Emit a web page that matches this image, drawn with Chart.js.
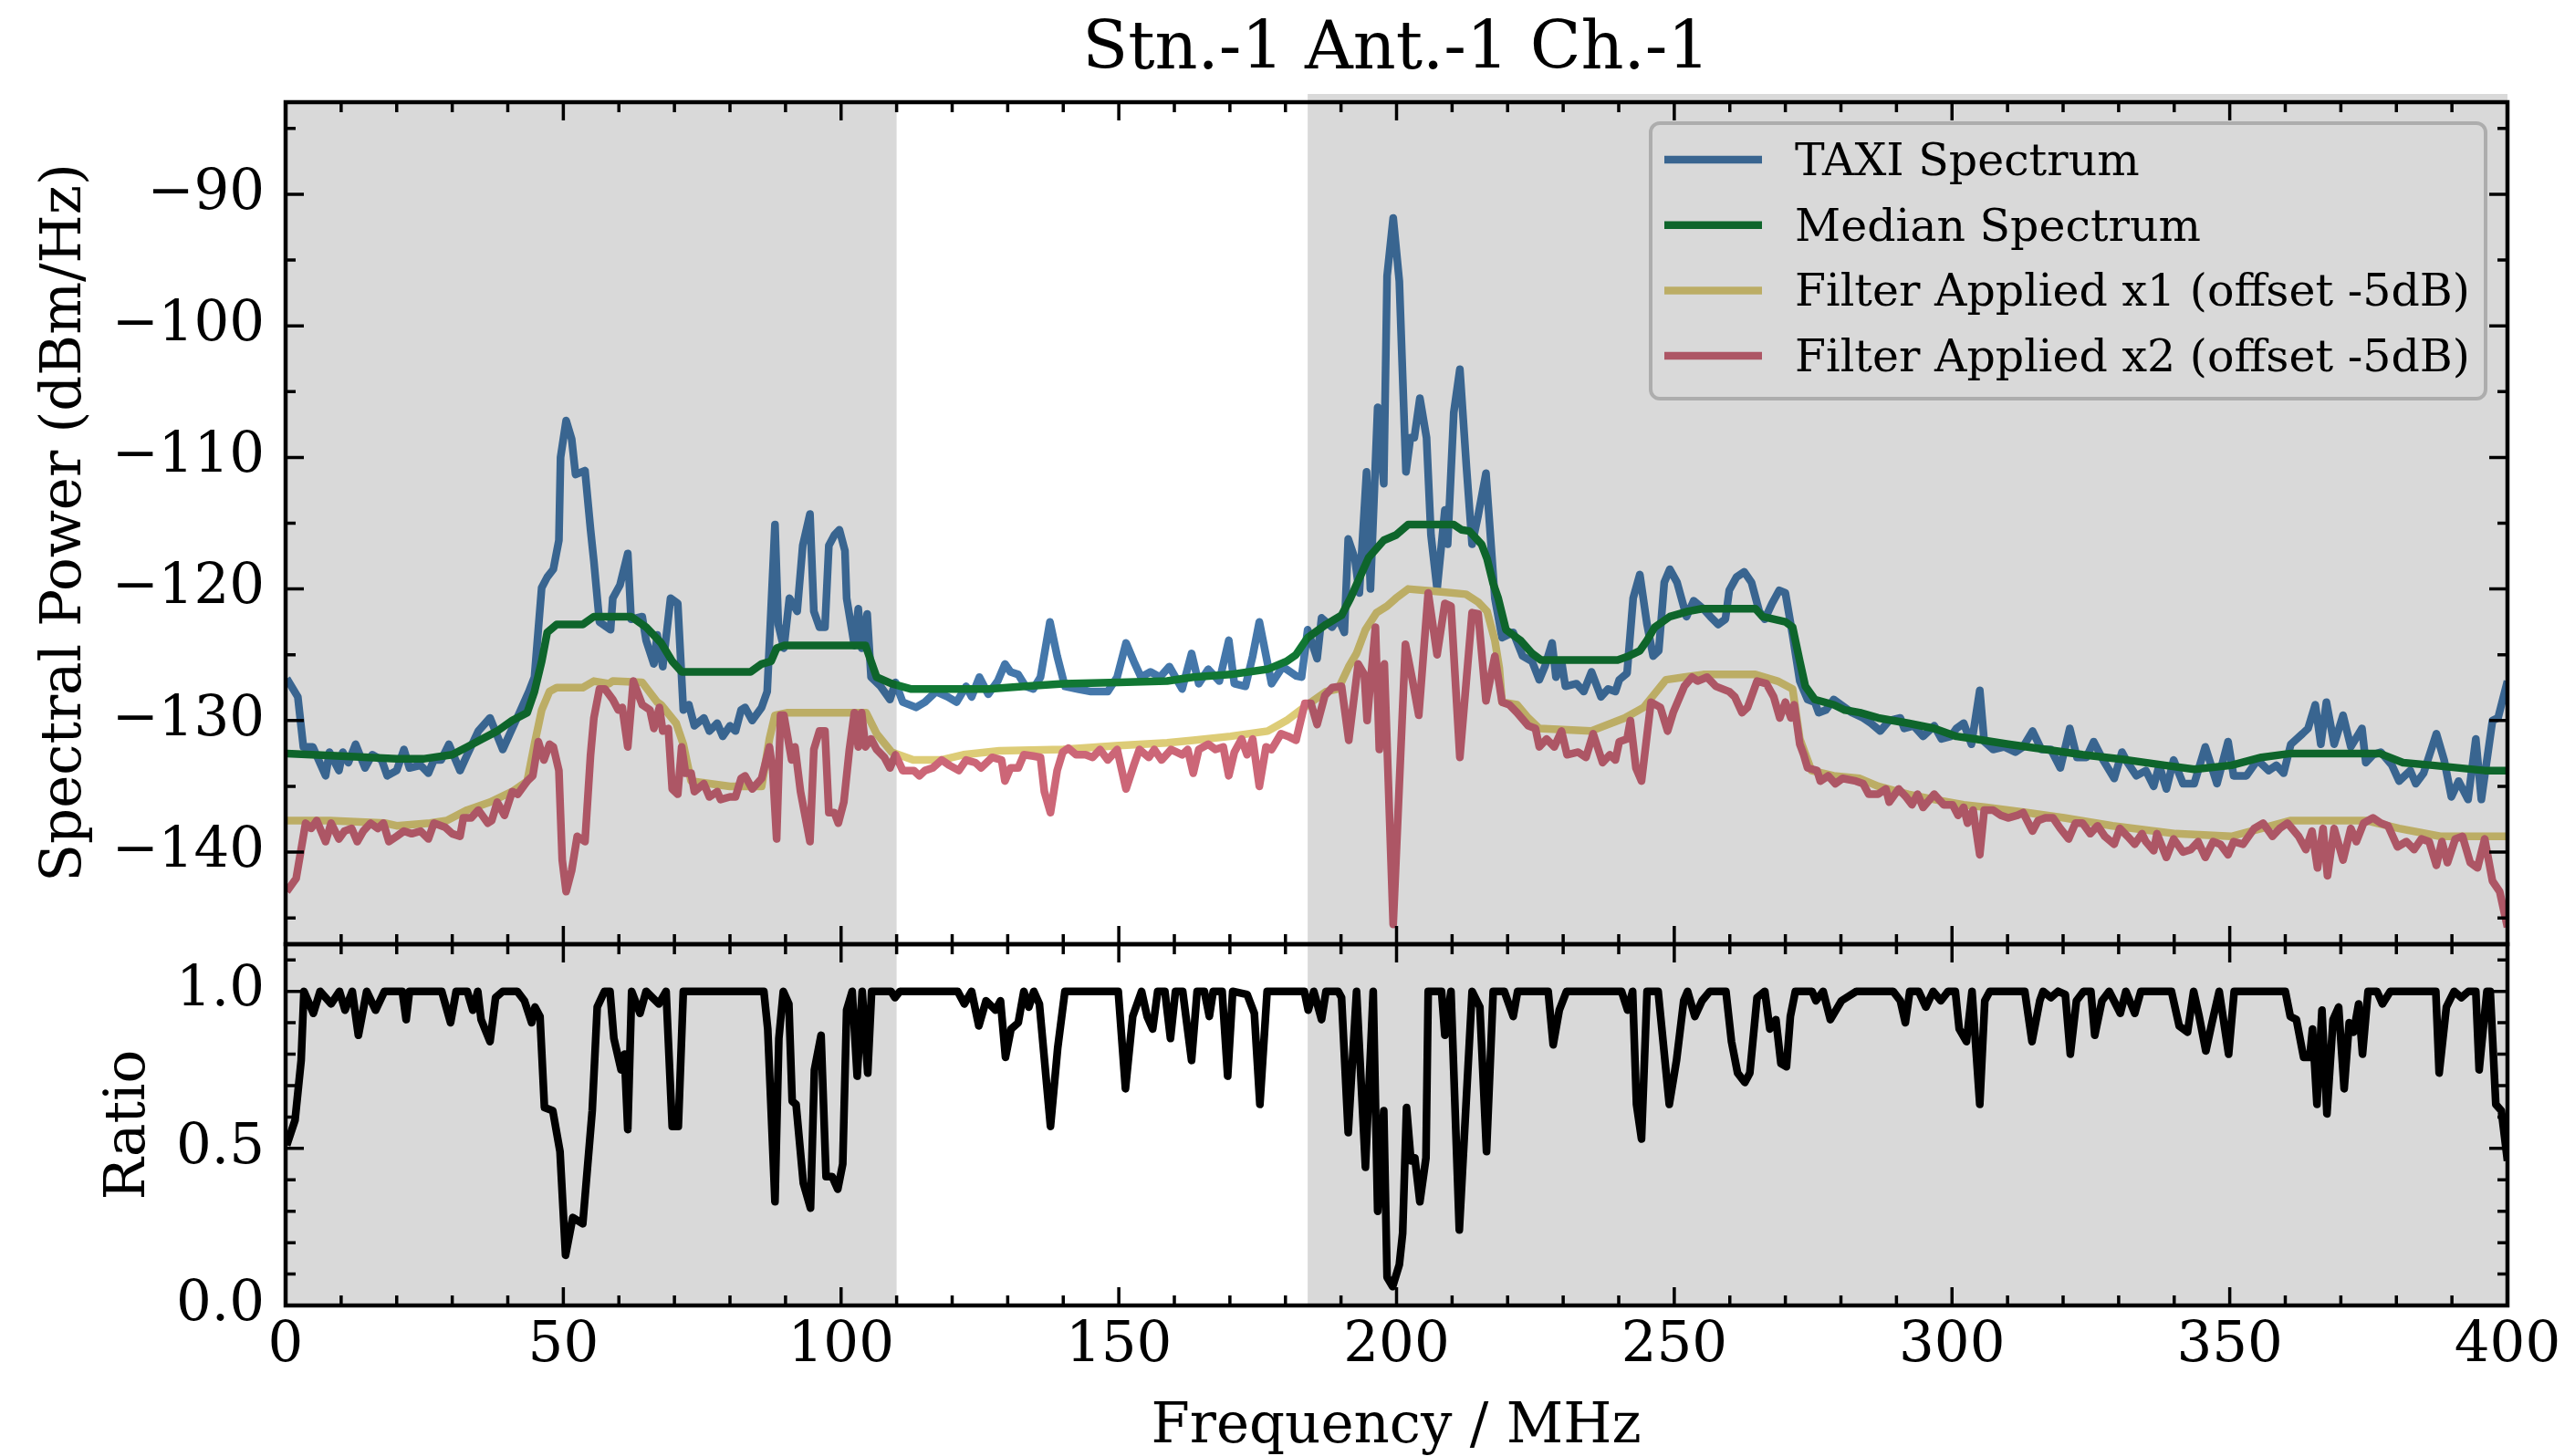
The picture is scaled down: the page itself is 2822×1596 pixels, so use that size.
<!DOCTYPE html>
<html>
<head>
<meta charset="utf-8">
<script src="https://cdn.jsdelivr.net/npm/chart.js@4/dist/chart.umd.min.js"></script>
<style>
  html, body { margin: 0; padding: 0; background: #fff; }
  body { width: 2822px; height: 1596px; position: relative; overflow: hidden; }
  .wrap { position: absolute; left: 0; }
  canvas { display: block; }
</style>
</head>
<body>
<div class="wrap" style="top:0px"><canvas id="spectrum" width="2822" height="1100"></canvas></div>
<div class="wrap" style="top:970px"><canvas id="ratio" width="2822" height="626"></canvas></div>
<script>
// ---- data ----
const taxiFreq = [0.2,2.2,3.2,4.9,7.2,7.9,9.6,10.3,11.3,12.6,14.3,15.6,17.3,18.3,20.0,21.3,22.3,24.3,25.7,26.7,28.0,29.4,31.4,32.7,34.7,36.8,39.1,40.8,42.1,43.8,44.8,46.1,47.1,48.2,49.2,49.5,50.5,51.5,52.2,53.9,54.9,55.5,56.5,58.5,58.9,60.2,61.6,62.2,64.2,64.9,66.3,66.9,67.9,69.3,70.6,71.6,72.6,73.6,75.3,76.3,77.7,78.7,80.0,81.0,82.0,82.7,84.0,85.7,86.7,87.4,88.1,88.7,89.7,90.7,92.1,93.1,94.4,95.1,96.1,97.1,97.8,98.8,99.7,100.7,101.0,102.4,103.1,103.7,104.7,105.4,107.1,108.8,109.8,111.1,113.5,115.1,117.1,119.2,120.8,122.5,123.5,124.9,126.5,128.2,129.5,130.5,131.9,133.2,134.6,135.9,137.6,138.9,140.3,142.6,145.0,148.0,149.7,151.3,152.7,154.0,155.7,157.4,159.1,161.4,163.1,164.4,166.1,168.1,169.8,170.8,172.8,174.1,175.3,177.5,179.5,181.9,182.9,184.0,185.7,186.5,188.4,189.5,190.6,191.3,192.5,193.3,194.6,195.3,196.6,197.7,198.3,199.4,200.5,201.7,202.5,203.2,204.2,205.4,206.2,207.3,208.7,209.2,210.3,211.4,212.6,213.6,214.7,216.1,217.7,219.0,221.0,222.7,224.4,225.7,226.7,228.0,228.7,229.7,230.4,232.4,233.7,235.1,236.8,238.1,239.4,240.1,241.5,242.6,243.8,245.1,246.2,247.2,248.2,249.2,250.5,252.2,253.5,255.2,256.5,257.9,259.2,259.9,261.2,262.6,263.9,265.3,266.3,267.6,268.9,270.0,271.3,272.6,274.0,275.3,276.0,277.3,278.7,280.0,282.0,284.0,285.4,287.1,288.7,290.7,291.4,293.1,294.8,296.8,298.1,299.8,300.8,302.1,303.5,305.0,305.8,307.4,309.4,311.4,312.8,314.5,316.1,317.8,319.5,321.2,322.5,324.2,325.5,327.2,329.2,330.6,331.6,333.2,334.9,336.3,337.3,338.6,339.9,341.6,343.6,345.6,347.7,349.7,350.7,353.0,355.0,357.0,358.4,359.7,361.0,363.1,364.1,365.4,366.4,367.4,368.8,370.4,371.8,373.8,374.5,375.8,377.2,379.2,380.5,382.5,383.5,384.9,387.2,388.6,389.9,391.2,392.9,394.3,395.3,397.3,398.3,400.0];
const taxiPower = [-126.8,-128.2,-132.0,-132.0,-134.2,-132.4,-133.8,-132.4,-133.2,-131.8,-133.6,-132.6,-133.0,-134.2,-133.8,-132.2,-133.6,-133.4,-134.0,-133.0,-133.0,-131.8,-133.8,-132.6,-130.8,-129.8,-132.2,-130.6,-129.4,-127.8,-126.7,-119.9,-119.1,-118.5,-116.3,-110.0,-107.2,-108.6,-111.3,-111.0,-115.5,-117.9,-122.5,-123.1,-120.7,-119.7,-117.3,-122.3,-122.1,-123.9,-125.7,-123.5,-125.9,-120.7,-121.1,-129.2,-128.8,-130.4,-129.8,-130.8,-130.2,-131.2,-130.4,-130.8,-129.2,-129.0,-130.0,-129.0,-127.8,-121.5,-115.1,-122.7,-124.5,-120.7,-121.7,-116.7,-114.3,-121.7,-122.9,-122.9,-116.7,-115.9,-115.5,-117.1,-120.7,-124.3,-121.5,-124.5,-121.9,-126.7,-127.4,-128.4,-127.1,-128.6,-129.0,-128.6,-127.8,-128.2,-128.6,-127.4,-128.2,-126.7,-128.0,-127.0,-125.7,-126.3,-126.5,-127.4,-127.6,-126.7,-122.5,-125.1,-127.4,-127.6,-127.8,-127.8,-126.7,-124.1,-125.5,-126.7,-126.3,-126.7,-125.9,-127.6,-124.9,-127.2,-126.1,-127.0,-123.9,-127.2,-127.4,-125.1,-122.5,-127.2,-125.9,-126.6,-126.7,-123.1,-125.3,-122.2,-122.9,-122.2,-123.3,-116.2,-117.7,-120.3,-111.1,-120.0,-106.2,-112.0,-96.2,-91.8,-96.6,-111.1,-108.5,-108.5,-105.5,-108.5,-115.9,-120.0,-114.0,-116.6,-106.6,-103.3,-110.8,-116.6,-114.4,-111.2,-120.7,-123.7,-123.3,-125.1,-125.5,-126.9,-125.9,-124.1,-126.7,-125.5,-127.4,-127.2,-127.8,-126.3,-128.2,-127.6,-127.8,-126.9,-126.4,-120.7,-118.9,-122.7,-125.1,-124.7,-119.5,-118.5,-119.5,-122.1,-120.9,-121.5,-122.1,-122.7,-122.3,-120.1,-119.1,-118.7,-119.5,-121.7,-122.3,-121.1,-120.1,-120.3,-123.5,-127.0,-128.4,-128.6,-129.4,-129.2,-128.4,-128.8,-129.4,-129.8,-130.2,-130.8,-130.0,-129.8,-130.6,-130.4,-131.2,-130.4,-131.4,-131.2,-130.6,-130.2,-131.8,-127.7,-131.6,-132.2,-132.0,-132.4,-132.0,-130.8,-132.2,-132.2,-133.6,-130.6,-132.8,-132.8,-131.6,-133.0,-134.4,-132.4,-133.2,-134.2,-133.8,-135.0,-133.4,-135.2,-133.0,-134.8,-134.8,-132.0,-134.8,-131.6,-134.2,-134.2,-133.0,-133.8,-133.4,-134.0,-131.8,-131.0,-130.6,-128.8,-131.8,-128.6,-131.8,-129.6,-132.0,-130.6,-133.2,-132.6,-132.4,-133.4,-134.6,-133.8,-134.8,-134.0,-131.0,-133.0,-135.8,-134.6,-136.0,-131.4,-136.0,-130.0,-129.8,-127.0];

const medianFreq = [0.2,10,20,25,30,32.7,35.4,38.1,40.8,43.5,44.8,46.1,47.1,48.8,53.5,55.5,62.2,64.9,67.6,69.6,71.3,83.7,85.7,87.4,88.4,89.7,104.4,106.4,109.1,112.5,126.5,133.2,140.0,150.0,158.7,163.4,170.1,176.8,180.2,181.9,184.0,187.3,190.1,191.7,193.3,195.0,197.7,199.9,202.1,210.3,211.7,213.1,215.3,216.3,217.4,218.3,219.7,222.3,224.4,226.0,239.8,241.8,243.8,245.1,246.5,249.2,252.5,255.0,264.6,265.9,270.0,271.3,272.6,273.6,275.3,278.7,280.7,283.4,286.7,292.1,296.8,300.8,304.1,310.1,316.8,323.5,331.6,338.3,343.6,350.3,355.7,361.0,377.0,381.2,386.5,395.9,400.0];
const medianPower = [-132.5,-132.7,-132.9,-132.9,-132.6,-132.0,-131.4,-130.8,-130.0,-129.4,-127.8,-125.5,-123.3,-122.7,-122.7,-122.1,-122.1,-122.9,-124.1,-125.5,-126.3,-126.3,-125.7,-125.5,-124.5,-124.3,-124.3,-126.7,-127.2,-127.6,-127.6,-127.4,-127.2,-127.1,-127.0,-126.7,-126.5,-126.1,-125.5,-125.0,-123.7,-122.7,-122.0,-120.7,-119.2,-117.6,-116.3,-115.9,-115.1,-115.1,-115.5,-115.6,-116.6,-117.7,-119.6,-120.7,-123.1,-123.9,-124.9,-125.4,-125.4,-125.1,-124.7,-123.9,-122.9,-122.1,-121.7,-121.5,-121.5,-122.1,-122.5,-122.9,-125.5,-127.4,-128.4,-128.8,-129.2,-129.4,-129.8,-130.2,-130.6,-131.2,-131.4,-131.8,-132.2,-132.6,-133.0,-133.4,-133.7,-133.4,-132.8,-132.5,-132.5,-133.2,-133.4,-133.8,-133.8];

const filt1Freq = [0.2,8.0,18.0,20.0,26.0,29.0,32.7,36.8,40.8,43.5,44.8,46.1,47.5,48.8,53.5,55.5,58.2,58.9,64.2,66.9,67.6,70.3,71.6,73.0,80.0,85.7,87.1,88.1,90.4,104.5,106.4,109.1,113.0,118.0,122.0,128.5,140.0,150.0,158.7,163.4,170.1,176.8,180.2,184.0,187.3,189.5,191.4,192.8,194.4,196.4,198.3,199.9,202.1,207.6,212.5,214.7,216.3,217.7,218.5,219.0,221.7,223.7,225.7,235.0,241.1,244.5,248.5,251.8,255.2,264.6,268.6,271.3,272.6,274.7,278.7,283.4,286.7,292.1,296.8,302.1,306.2,313.5,320.2,328.9,340.3,350.3,355.7,361.0,374.5,380.5,387.9,400.0];
const filt1Power = [-137.6,-137.6,-137.8,-138.0,-137.8,-137.6,-136.8,-136.2,-135.4,-134.6,-131.8,-129.2,-127.8,-127.5,-127.5,-127.0,-127.2,-127.0,-127.1,-128.6,-128.8,-130.2,-131.8,-134.6,-135.0,-135.0,-131.4,-129.6,-129.4,-129.4,-131.0,-132.4,-133.0,-133.0,-132.6,-132.3,-132.2,-131.9,-131.7,-131.5,-131.2,-130.8,-130.0,-128.8,-127.8,-127.6,-125.9,-124.9,-123.1,-121.8,-121.3,-120.7,-120.0,-120.2,-120.4,-121.0,-121.7,-123.9,-126.0,-128.6,-128.8,-129.8,-130.6,-130.8,-129.8,-129.0,-126.9,-126.7,-126.5,-126.5,-127.0,-127.6,-131.4,-133.8,-134.2,-134.4,-135.0,-135.6,-136.0,-136.4,-136.6,-137.0,-137.4,-138.0,-138.6,-138.8,-138.2,-137.6,-137.6,-138.2,-138.8,-138.8];

const filt2Freq = [0.2,1.9,3.6,4.6,5.6,7.2,8.2,9.6,10.6,11.9,12.9,14.0,15.3,16.6,17.6,18.6,20.0,21.3,22.7,24.3,25.7,26.7,28.7,30.0,31.4,32.0,33.4,34.7,36.4,37.1,38.1,39.4,40.8,41.8,43.5,44.5,45.5,46.5,47.5,48.2,49.2,49.8,50.5,51.5,52.5,53.9,54.9,55.5,56.5,57.5,58.9,59.9,60.6,61.6,62.6,64.2,65.6,66.3,67.3,67.9,68.9,69.6,70.6,71.3,72.0,73.0,73.6,75.3,76.3,77.7,78.3,80.0,81.0,82.0,82.7,84.0,85.7,87.1,87.7,88.4,89.1,89.7,91.1,91.7,92.7,94.4,95.1,96.1,97.1,97.8,98.8,99.5,100.5,101.5,102.4,103.1,103.7,104.4,105.4,106.4,107.8,108.8,109.8,111.1,113.1,114.1,115.1,116.5,118.1,119.5,121.2,122.5,124.2,125.2,127.2,128.9,129.5,130.5,131.9,132.9,134.6,135.9,136.6,137.7,138.9,139.9,140.9,142.3,144.0,145.3,146.6,148.0,149.7,151.3,152.7,153.7,155.4,156.4,157.7,159.4,160.4,161.4,162.4,163.4,164.4,166.1,167.4,168.8,169.8,170.8,172.1,173.1,174.1,175.3,176.5,177.5,179.2,180.5,181.9,183.5,184.6,185.7,187.1,188.4,190.1,191.4,193.1,194.2,194.7,196.2,196.9,197.8,199.4,201.6,202.9,204.0,205.7,207.3,208.7,209.8,211.4,213.6,214.7,216.1,217.7,219.0,220.3,221.7,223.7,225.0,225.7,227.0,228.4,229.7,230.7,232.7,234.1,235.4,237.1,238.4,239.4,240.1,241.5,242.1,243.1,244.1,245.8,247.5,248.8,249.8,251.8,253.2,254.2,255.9,257.5,259.9,260.9,262.2,263.2,264.9,266.6,267.9,269.0,270.0,271.0,271.6,272.6,273.3,274.0,275.7,276.3,277.7,279.0,280.3,282.7,284.0,285.0,286.7,288.1,288.7,290.4,291.7,292.8,293.8,294.8,296.8,298.5,300.1,301.1,302.1,302.8,303.8,305.0,305.8,307.4,308.8,310.1,311.8,312.8,314.5,315.5,316.8,318.2,319.5,321.0,322.2,323.5,324.9,326.2,327.5,329.2,330.2,331.6,332.9,334.2,334.9,336.3,336.9,338.6,339.9,341.6,343.0,344.3,345.6,347.0,348.3,349.7,350.7,352.4,354.4,356.0,357.7,359.0,360.4,362.4,363.7,364.8,365.8,366.8,367.6,368.8,370.4,371.8,372.8,374.1,375.8,377.2,378.5,380.2,381.8,383.2,384.5,385.9,387.2,388.2,389.2,390.6,391.9,393.3,394.6,395.9,397.3,398.6,400.0];
const filt2Power = [-143.0,-142.0,-137.8,-138.2,-137.6,-139.2,-137.8,-139.0,-138.4,-138.2,-139.2,-138.4,-137.8,-138.2,-137.8,-139.2,-138.8,-138.4,-138.6,-138.4,-139.0,-137.8,-138.1,-138.6,-138.8,-137.4,-137.4,-136.8,-137.8,-137.6,-136.2,-137.2,-135.4,-135.6,-134.6,-134.2,-131.6,-133.0,-131.8,-132.0,-133.8,-140.6,-143.0,-141.4,-138.8,-139.2,-132.6,-129.8,-127.6,-127.6,-128.4,-129.2,-129.0,-132.0,-127.0,-128.8,-129.2,-130.6,-129.0,-130.8,-130.6,-135.2,-135.6,-132.0,-134.0,-134.0,-135.4,-134.8,-135.8,-135.4,-136.0,-135.8,-135.8,-134.4,-134.2,-135.2,-134.4,-132.0,-133.8,-139.0,-129.6,-129.6,-133.0,-132.0,-135.4,-139.2,-132.2,-130.8,-130.8,-137.0,-137.0,-137.8,-136.2,-132.2,-129.4,-132.0,-129.4,-132.0,-131.4,-132.2,-132.8,-133.6,-132.6,-133.8,-133.8,-134.2,-133.8,-133.6,-133.0,-133.4,-133.8,-133.0,-133.2,-133.6,-132.8,-133.0,-134.6,-133.6,-133.6,-132.6,-132.7,-132.8,-135.4,-137.0,-133.8,-132.4,-132.1,-132.6,-132.6,-132.8,-132.2,-133.0,-132.2,-135.2,-133.4,-132.2,-132.8,-132.2,-133.0,-132.2,-132.4,-132.6,-132.2,-134.0,-132.2,-131.8,-132.2,-132.0,-134.2,-132.4,-131.4,-132.6,-131.4,-135.0,-132.0,-132.2,-131.0,-131.2,-131.5,-128.7,-128.7,-130.3,-128.1,-127.5,-127.4,-131.5,-125.7,-126.5,-130.0,-122.9,-132.2,-125.7,-145.5,-124.2,-127.0,-129.6,-120.3,-125.0,-121.1,-121.3,-132.8,-121.8,-121.9,-128.5,-125.1,-128.6,-128.8,-129.4,-130.4,-130.6,-132.0,-131.4,-132.0,-130.8,-132.6,-132.4,-132.8,-131.0,-133.2,-132.6,-133.0,-131.6,-131.4,-130.0,-133.6,-134.6,-128.6,-129.0,-130.8,-129.4,-127.4,-126.7,-127.0,-126.7,-127.4,-127.8,-128.2,-129.4,-129.0,-127.0,-127.2,-128.2,-129.8,-128.6,-129.8,-128.8,-131.8,-132.6,-133.6,-133.8,-134.6,-134.2,-134.8,-134.4,-134.6,-134.8,-135.6,-135.6,-135.2,-136.2,-135.2,-135.8,-136.4,-135.6,-136.6,-135.6,-136.4,-136.4,-137.2,-136.6,-137.8,-136.8,-140.2,-136.8,-136.8,-137.2,-137.4,-137.2,-137.0,-138.4,-137.6,-137.4,-137.4,-138.2,-139.0,-137.8,-137.8,-138.6,-138.0,-138.8,-139.4,-138.2,-138.8,-139.4,-138.6,-139.2,-139.9,-138.6,-140.4,-139.0,-140.0,-139.8,-139.2,-140.4,-139.2,-139.4,-140.2,-139.2,-139.4,-138.2,-137.8,-138.8,-138.2,-137.8,-138.8,-139.8,-138.4,-141.2,-138.2,-141.8,-138.2,-140.6,-138.2,-139.2,-137.8,-137.4,-137.8,-138.0,-139.6,-139.2,-139.8,-139.0,-139.2,-141.0,-139.2,-140.8,-139.0,-138.8,-140.8,-141.2,-139.0,-142.2,-143.0,-145.7];

const ratioFreq = [0.2,1.7,2.8,3.3,5.0,6.2,8.2,9.7,10.7,12.0,13.1,14.6,16.2,17.8,21.0,21.7,22.3,28.1,29.7,30.7,32.7,33.7,34.6,35.2,36.8,37.8,39.1,41.7,43.0,44.3,44.9,45.8,46.6,48.1,49.4,50.4,51.7,53.5,55.2,56.1,57.4,58.4,59.1,60.4,61.0,61.6,62.3,63.8,64.9,67.2,68.5,69.6,70.7,71.6,86.1,86.8,88.1,88.8,89.6,90.6,91.2,91.9,93.2,94.5,95.2,96.4,97.3,98.4,99.4,100.3,101.0,102.0,102.9,103.8,104.8,105.5,109.0,109.7,110.6,121.0,122.2,123.5,124.8,126.1,127.8,128.7,129.6,130.6,131.9,132.9,133.8,134.7,135.7,137.7,139.0,140.3,149.9,151.2,152.5,154.1,155.1,156.1,157.0,158.3,159.3,160.2,161.5,163.1,164.1,165.4,166.3,167.0,168.6,169.6,170.5,173.1,174.4,175.4,176.7,183.4,184.1,185.1,186.5,187.3,189.5,190.1,191.3,192.8,194.4,195.8,196.6,197.7,198.3,199.3,200.5,201.1,201.8,202.6,203.3,204.2,205.3,205.7,208.1,208.7,209.8,211.3,213.6,215.0,216.2,217.4,219.4,221.0,221.8,227.3,228.2,229.3,230.6,240.5,241.6,242.5,243.2,244.1,245.1,247.1,249.1,250.4,251.7,252.4,253.7,255.0,256.4,259.3,260.3,261.4,262.7,263.6,264.9,266.3,267.2,268.3,269.2,270.2,270.9,271.8,274.8,275.5,276.8,278.1,279.1,280.1,282.8,289.4,290.7,291.6,292.4,294.0,295.3,296.6,298.0,299.3,300.6,301.3,302.6,303.6,305.0,305.9,306.8,313.1,314.4,315.8,316.4,317.8,319.1,320.4,321.3,322.4,323.7,325.0,325.7,327.0,328.3,330.3,331.3,332.9,334.0,339.5,340.9,342.4,343.5,344.5,345.7,346.8,348.1,349.8,350.8,360.0,360.9,362.0,363.3,364.4,364.9,365.7,366.6,367.5,368.6,369.6,370.6,371.5,372.3,373.2,373.9,374.9,376.5,377.5,378.9,387.1,387.7,389.0,390.4,391.7,393.0,394.3,394.9,396.3,396.9,397.9,398.9,400.0];
const ratioValue = [0.51,0.59,0.78,1.0,0.93,1.0,0.96,1.0,0.94,1.0,0.86,1.0,0.94,1.0,1.0,0.91,1.0,1.0,0.90,1.0,1.0,0.94,1.0,0.91,0.84,0.98,1.0,1.0,0.97,0.90,0.95,0.92,0.63,0.62,0.49,0.16,0.28,0.26,0.62,0.95,1.0,1.0,0.85,0.75,0.80,0.56,1.0,0.93,1.0,0.96,1.0,0.57,0.57,1.0,1.0,0.88,0.33,0.85,1.0,0.96,0.65,0.64,0.39,0.31,0.75,0.86,0.41,0.41,0.37,0.45,0.94,1.0,0.73,1.0,0.74,1.0,1.0,0.98,1.0,1.0,0.96,1.0,0.89,0.97,0.94,0.97,0.79,0.88,0.90,1.0,0.95,1.0,0.96,0.57,0.82,1.0,1.0,0.69,0.92,1.0,0.92,0.88,1.0,1.0,0.85,1.0,1.0,0.78,1.0,1.0,0.92,1.0,1.0,0.73,1.0,0.99,0.93,0.64,1.0,1.0,0.94,1.0,0.91,1.0,1.0,0.98,0.55,1.0,0.44,1.0,0.30,0.62,0.09,0.06,0.13,0.23,0.63,0.46,0.47,0.33,0.47,1.0,1.0,0.86,1.0,0.24,1.0,0.95,0.49,1.0,1.0,0.92,1.0,1.0,0.83,0.94,1.0,1.0,0.94,1.0,0.64,0.53,1.0,1.0,0.64,0.78,0.97,1.0,0.92,0.97,1.0,1.0,0.84,0.74,0.71,0.74,0.98,1.0,0.88,0.91,0.77,0.76,0.92,1.0,1.0,0.97,1.0,0.91,0.94,0.97,1.0,1.0,0.97,0.90,1.0,1.0,0.95,1.0,0.97,1.0,1.0,0.88,0.84,1.0,0.64,0.97,1.0,1.0,0.84,0.97,1.0,0.98,1.0,0.99,0.80,0.97,1.0,1.0,0.86,0.97,1.0,0.93,1.0,0.93,1.0,1.0,0.89,0.87,1.0,0.92,0.81,0.90,1.0,0.80,1.0,1.0,0.92,0.91,0.79,0.79,0.88,0.64,0.94,0.61,0.91,0.95,0.69,0.90,0.87,0.96,0.80,1.0,1.0,0.96,1.0,1.0,0.74,0.95,1.0,0.98,1.0,1.0,0.75,1.0,1.0,0.64,0.62,0.46];

const seriesLabels = ['TAXI Spectrum', 'Median Spectrum', 'Filter Applied x1 (offset -5dB)', 'Filter Applied x2 (offset -5dB)'];
const freqTicks = [0, 50, 100, 150, 200, 250, 300, 350, 400];
const powerTicks = [-140, -130, -120, -110, -100, -90];
const ratioTicks = [0, 0.5, 1.0];
const shadeBands = [[0, 110], [184, 400]];

// ---- drawing ----
const SERIF = '"DejaVu Serif", "Liberation Serif", serif';
const FS = 61;
const LW = 8.5;
Chart.defaults.font.family = SERIF;
Chart.defaults.color = '#000';

function pairs(xs, ys) {
  return xs.map(function (x, i) { return { x: x, y: ys[i] }; });
}

function line(label, xs, ys, color, order) {
  return {
    label: label, data: pairs(xs, ys), borderColor: color, backgroundColor: color,
    borderWidth: LW, pointRadius: 0, tension: 0, fill: false, clip: 0,
    borderJoinStyle: 'round', order: order
  };
}

function roundBox(ctx, x, y, w, h, r) {
  ctx.beginPath();
  ctx.moveTo(x + r, y);
  ctx.arcTo(x + w, y, x + w, y + h, r);
  ctx.arcTo(x + w, y + h, x, y + h, r);
  ctx.arcTo(x, y + h, x, y, r);
  ctx.arcTo(x, y, x + w, y, r);
  ctx.closePath();
}

function drawLegend(chart) {
  const ctx = chart.ctx, a = chart.chartArea;
  const w = 915, h = 302, x = a.right - 24 - w, y = a.top + 23;
  ctx.save();
  roundBox(ctx, x, y, w, h, 10);
  ctx.fillStyle = 'rgba(255,255,255,0.8)';
  ctx.fill();
  ctx.lineWidth = 4;
  ctx.strokeStyle = '#cccccc';
  ctx.stroke();
  ctx.font = '49px ' + SERIF;
  ctx.textBaseline = 'alphabetic';
  ctx.textAlign = 'left';
  chart.data.datasets.forEach(function (ds, i) {
    const cy = y + 40 + i * 71.7;
    ctx.strokeStyle = ds.borderColor;
    ctx.lineWidth = LW;
    ctx.beginPath();
    ctx.moveTo(x + 15, cy);
    ctx.lineTo(x + 122, cy);
    ctx.stroke();
    ctx.fillStyle = '#000';
    ctx.fillText(ds.label, x + 158, cy + 17);
  });
  ctx.restore();
}

function drawShade(chart, overhang) {
  const ctx = chart.ctx, a = chart.chartArea, xs = chart.scales.x;
  ctx.save();
  ctx.fillStyle = 'rgba(0,0,0,0.15)';
  shadeBands.forEach(function (b, i) {
    const x0 = xs.getPixelForValue(b[0]), x1 = xs.getPixelForValue(b[1]);
    const top = (overhang && i === shadeBands.length - 1) ? a.top - 9 : a.top;
    ctx.fillRect(x0, top, x1 - x0, a.bottom - top);
  });
  ctx.restore();
}

function drawFrame(chart, yTicks) {
  const ctx = chart.ctx, a = chart.chartArea, xs = chart.scales.x, ys = chart.scales.y;
  ctx.save();
  ctx.strokeStyle = '#000';
  ctx.lineWidth = 3.5;
  ctx.beginPath();
  for (let f = 0; f <= 400; f += 10) {
    const px = xs.getPixelForValue(f), len = f % 50 === 0 ? 20 : 11;
    ctx.moveTo(px, a.bottom); ctx.lineTo(px, a.bottom - len);
    ctx.moveTo(px, a.top); ctx.lineTo(px, a.top + len);
  }
  yTicks.forEach(function (t) {
    const py = ys.getPixelForValue(t.v), len = t.major ? 20 : 11;
    ctx.moveTo(a.left, py); ctx.lineTo(a.left + len, py);
    ctx.moveTo(a.right, py); ctx.lineTo(a.right - len, py);
  });
  ctx.stroke();
  ctx.lineWidth = 4.5;
  ctx.strokeRect(a.left, a.top, a.right - a.left, a.bottom - a.top);
  ctx.restore();
}

function drawText(ctx, t) {
  ctx.save();
  ctx.font = t.size + 'px ' + SERIF;
  ctx.fillStyle = '#000';
  ctx.textAlign = 'center';
  ctx.textBaseline = 'alphabetic';
  ctx.translate(t.x, t.y);
  if (t.rotate) ctx.rotate(-Math.PI / 2);
  ctx.fillText(t.text, 0, 0);
  ctx.restore();
}

const framePlugin = {
  id: 'frame',
  afterDatasetsDraw: function (chart, args, opts) {
    if (opts.legend) drawLegend(chart);
    drawShade(chart, opts.overhang);
  },
  afterDraw: function (chart, args, opts) {
    drawFrame(chart, opts.yTicks);
    (opts.texts || []).forEach(function (t) { drawText(chart.ctx, t); });
  }
};

function fixY(width) {
  return function (scale) {
    scale.width = width;
    scale.paddingTop = 0;
    scale.paddingBottom = 0;
  };
}

const powerMinor = [];
for (let v = -145; v <= -85; v += 5) powerMinor.push({ v: v, major: v % 10 === 0 });
const ratioMinor = [];
for (let k = 0; k <= 11; k++) ratioMinor.push({ v: k / 10, major: k % 5 === 0 });

function minusFmt(v) { return (v < 0 ? '\u2212' : '') + Math.abs(v); }

new Chart(document.getElementById('spectrum'), {
  type: 'line',
  data: {
    datasets: [
      line(seriesLabels[0], taxiFreq, taxiPower, '#4477aa', 4),
      line(seriesLabels[1], medianFreq, medianPower, '#117733', 3),
      line(seriesLabels[2], filt1Freq, filt1Power, '#ddcc77', 2),
      line(seriesLabels[3], filt2Freq, filt2Power, '#cc6677', 1)
    ]
  },
  options: {
    responsive: false, animation: false, devicePixelRatio: 1, events: [],
    layout: { padding: { left: 0, right: 74, top: 112, bottom: 65 } },
    scales: {
      x: { type: 'linear', display: false, min: 0, max: 400 },
      y: {
        type: 'linear', min: -147, max: -83,
        grid: { display: false, drawTicks: false }, border: { display: false },
        afterBuildTicks: function (s) { s.ticks = powerTicks.map(function (v) { return { value: v }; }); },
        afterFit: fixY(313),
        ticks: { padding: 23, font: { size: FS }, color: '#000', callback: minusFmt }
      }
    },
    plugins: {
      legend: { display: false }, tooltip: { enabled: false },
      frame: {
        legend: true, overhang: true, yTicks: powerMinor,
        texts: [
          { text: 'Stn.-1 Ant.-1 Ch.-1', x: 1530, y: 75, size: 73 },
          { text: 'Spectral Power (dBm/Hz)', x: 88, y: 573, size: FS, rotate: true }
        ]
      }
    }
  },
  plugins: [framePlugin]
});

new Chart(document.getElementById('ratio'), {
  type: 'line',
  data: {
    datasets: [
      { label: 'Ratio', data: pairs(ratioFreq, ratioValue), borderColor: '#000', borderWidth: LW,
        pointRadius: 0, tension: 0, fill: false, clip: 0, borderJoinStyle: 'round' }
    ]
  },
  options: {
    responsive: false, animation: false, devicePixelRatio: 1, events: [],
    layout: { padding: { left: 0, right: 74, top: 65, bottom: 0 } },
    scales: {
      x: {
        type: 'linear', min: 0, max: 400,
        grid: { display: false, drawTicks: false }, border: { display: false },
        afterBuildTicks: function (s) { s.ticks = freqTicks.map(function (v) { return { value: v }; }); },
        afterFit: function (s) { s.height = 165; s.paddingLeft = 0; s.paddingRight = 0; },
        ticks: { padding: 9, autoSkip: false, maxRotation: 0, font: { size: FS }, color: '#000',
          callback: function (v) { return String(v); } }
      },
      y: {
        type: 'linear', min: 0, max: 1.15,
        grid: { display: false, drawTicks: false }, border: { display: false },
        afterBuildTicks: function (s) { s.ticks = ratioTicks.map(function (v) { return { value: v }; }); },
        afterFit: fixY(313),
        ticks: { padding: 23, font: { size: FS }, color: '#000', callback: function (v) { return v.toFixed(1); } }
      }
    },
    plugins: {
      legend: { display: false }, tooltip: { enabled: false },
      frame: {
        legend: false, overhang: false, yTicks: ratioMinor,
        texts: [
          { text: 'Ratio', x: 158, y: 263, size: FS, rotate: true },
          { text: 'Frequency / MHz', x: 1530, y: 611, size: FS }
        ]
      }
    }
  },
  plugins: [framePlugin]
});
</script>
</body>
</html>
